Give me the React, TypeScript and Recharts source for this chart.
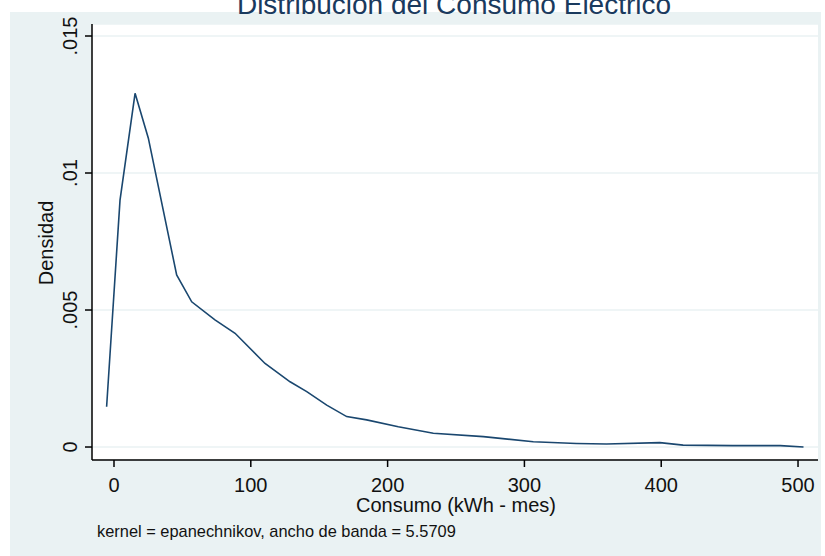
import { LineChart, Line, XAxis, YAxis, CartesianGrid } from 'recharts'

// Kernel density estimate
const consumo = [
  -5.4, 4.4, 15.4, 25.1, 45.8, 56.8, 73.8, 88.5, 110.4, 128.7, 140.9, 155.5, 170.1,
  184.7, 207.8, 233.4, 270, 306.5, 338, 360, 399, 416, 452, 487, 504,
]
const densidad = [
  0.00147, 0.00901, 0.01291, 0.01127, 0.00628, 0.0053, 0.00464, 0.00415, 0.00305, 0.00238,
  0.00202, 0.00153, 0.00111, 0.00099, 0.00074, 0.0005, 0.00038, 0.00019, 0.00013, 0.00011,
  0.00016, 0.00007, 0.00005, 0.00005, 0.0,
]
const xTicks = [0, 100, 200, 300, 400, 500]
const yTicks = [0, 0.005, 0.01, 0.015]
const yTickLabels = ['0', '.005', '.01', '.015']

const data = consumo.map((x, i) => ({ x, y: densidad[i] }))

const FONT = '"Liberation Sans", Arial, sans-serif'
const BG = '#eaf2f3'

function XTick({ x, y, payload }: any) {
  return (
    <text x={x} y={y} dy={23} textAnchor="middle" fontSize={20} fontFamily={FONT} fill="#111">
      {payload.value}
    </text>
  )
}

function YTick({ x, y, payload }: any) {
  const idx = yTicks.indexOf(payload.value)
  return (
    <text
      transform={`translate(${x - 6},${y}) rotate(-90)`}
      textAnchor="middle"
      fontSize={20}
      fontFamily={FONT}
      fill="#111"
    >
      {idx >= 0 ? yTickLabels[idx] : payload.value}
    </text>
  )
}

export default function App() {
  return (
    <div style={{ position: 'absolute', left: 0, top: 0, width: 825, height: 556, background: '#fff', overflow: 'hidden' }}>
      <div style={{ position: 'absolute', left: 10, top: 12, width: 811, height: 544, background: BG }} />
      <div style={{ position: 'absolute', left: 0, top: 0 }}>
        <LineChart width={825} height={556} data={data} margin={{ top: 24, right: 7, bottom: 36, left: 32 }}>
          <CartesianGrid fill="#fff" stroke={BG} strokeWidth={1.5} vertical={false} />
          <XAxis
            dataKey="x"
            type="number"
            domain={[-16.08, 514.6]}
            allowDataOverflow
            ticks={xTicks}
            height={60}
            tickSize={7}
            tick={<XTick />}
            axisLine={{ stroke: '#000', strokeWidth: 1.5 }}
            tickLine={{ stroke: '#000', strokeWidth: 1.5 }}
          />
          <YAxis
            type="number"
            domain={[-0.000474, 0.015438]}
            allowDataOverflow
            ticks={yTicks}
            width={60}
            tickSize={7}
            tick={<YTick />}
            axisLine={{ stroke: '#000', strokeWidth: 1.5 }}
            tickLine={{ stroke: '#000', strokeWidth: 1.5 }}
          />
          <Line
            type="linear"
            dataKey="y"
            stroke="#1a476f"
            strokeWidth={1.6}
            dot={false}
            isAnimationActive={false}
          />
        </LineChart>
      </div>
      <svg width={825} height={556} style={{ position: 'absolute', left: 0, top: 0, pointerEvents: 'none' }}>
        <text x={454} y={14} textAnchor="middle" fontSize={28} fontFamily={FONT} fill="#1a3a5e">
          Distribución del Consumo Eléctrico
        </text>
        <text transform="translate(53,243) rotate(-90)" textAnchor="middle" fontSize={20} fontFamily={FONT} fill="#111">
          Densidad
        </text>
        <text x={456} y={512} textAnchor="middle" fontSize={20} fontFamily={FONT} fill="#111">
          Consumo (kWh - mes)
        </text>
        <text x={97} y={537} fontSize={16.4} fontFamily={FONT} fill="#111">
          kernel = epanechnikov, ancho de banda = 5.5709
        </text>
      </svg>
    </div>
  )
}
